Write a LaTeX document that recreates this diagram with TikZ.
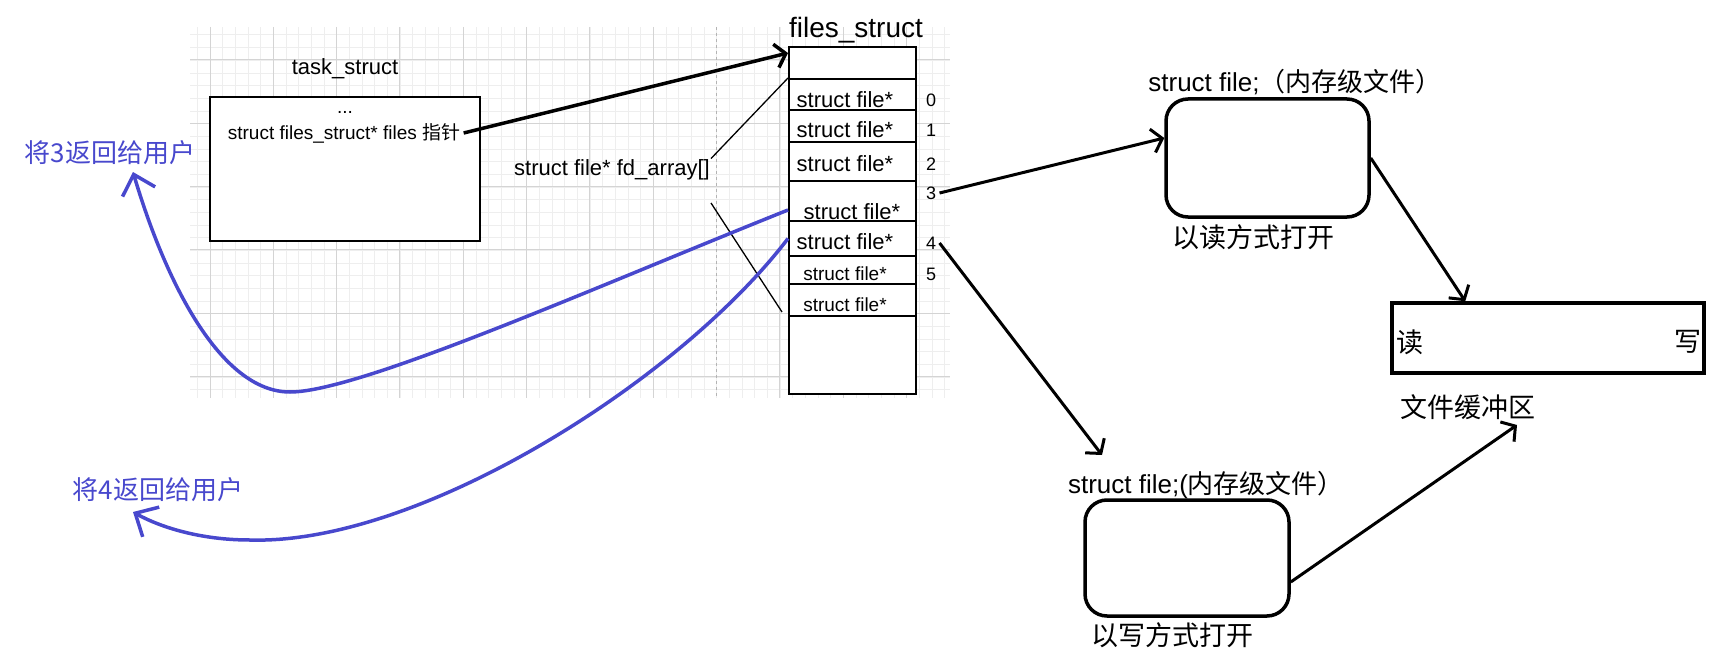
\documentclass[tikz,border=0pt]{standalone}
\usepackage{fontspec}
\setmainfont{Liberation Sans}
\newfontfamily\cjk{Noto Sans CJK SC}
\usepackage{tikz}
\usetikzlibrary{arrows.meta}
\definecolor{retblue}{RGB}{72,72,205}
\definecolor{gridmajor}{RGB}{212,212,212}
\definecolor{gridminor}{RGB}{238,238,238}
\newcommand{\fsz}[1]{\fontsize{#1}{#1}\selectfont}

\begin{document}
\begin{tikzpicture}[x=1pt,y=-1pt,
  cell/.style={draw,fill=white,line width=2pt,minimum width=127pt,anchor=north west,inner sep=0pt},
  rbox/.style={draw,line width=3.5pt,rounded corners=22pt,inner sep=0pt},
  ptr/.style={line width=3pt,-{Straight Barb[length=10pt,width=24pt]}},
  ret/.style={retblue,line width=3.5pt,-{Straight Barb[length=18pt,width=34pt]}},
  retlbl/.style={text=retblue,font=\cjk\fsz{26}}]
\useasboundingbox (0,0) rectangle (1710,658);
% grid
\foreach \i in {0,...,59} \draw[gridminor] ({197.3+12.667*\i},27) -- ({197.3+12.667*\i},398);
\foreach \j in {0,...,28} \draw[gridminor] (190,{34.7+12.667*\j}) -- (950,{34.7+12.667*\j});
\foreach \i in {0,...,7,9,10,11} \draw[gridmajor,line width=1pt] ({210+63.33*\i},27) -- ({210+63.33*\i},398);
\foreach \j in {0,...,5} \draw[gridmajor,line width=1pt] (190,{60+63.33*\j}) -- (950,{60+63.33*\j});
\draw[gridmajor!85!black,line width=1pt,dashed] (716.7,27) -- (716.7,398);
% task_struct
\node[draw,fill=white,line width=2pt,minimum width=270pt,minimum height=144pt] (task) at (345,169) {};
\node (tasklbl) at (345,69) {\fsz{22}task\_struct};
\node (dots) at (345,112) {\fsz{19}...};
\node (fptr) at (344,133) {\fsz{19}struct files\_struct* files {\cjk 指针}};
% files_struct
\foreach \nm/\ya/\yb in {fhead/46/78,f0/78/109,f1/109/141,f2/141/180,f3/180/220,f4/220/255,f5/255/283,f6/283/315,ftail/315/393}
  \node[cell,minimum height={\yb-\ya}] (\nm) at (788,\ya) {};
\foreach \i/\x/\y/\sz in {0/845/100/22,1/845/130/22,2/845/164/22,3/852/212/22,4/845/242/22,5/845/274/19,6/845/305/19}
  \node (sf\i) at (\x,\y) {\fsz{\sz}struct file*};
\foreach \i/\y in {0/100,1/130,2/164,3/193,4/243,5/274}
  \node (idx\i) at (931,\y) {\fsz{18}\i};
\node (fstitle) at (856,30) {\fsz{28}files\_struct};
\node[inner sep=1pt] (fdlbl) at (612,170) {\fsz{22}struct file* fd\_array[]};
\draw[line width=1.3pt] (fdlbl.north east) -- (f0.north west);
\coordinate (brka) at (711,203);
\coordinate (brkb) at (782,312);
\draw[line width=1.3pt] (brka) -- (brkb);
\draw[ptr,line width=3.5pt] (fptr.east) -- ([yshift=10pt]fhead.west);
% return to user
\coordinate (tip3) at (133,172);
\coordinate (tip4) at (133,512);
\node[retlbl] (ret3) at (110,153) {将3返回给用户};
\node[retlbl] (ret4) at (158,490) {将4返回给用户};
\draw[ret] ([yshift=-9pt]f3.west) .. controls (600,285) and (360,392) .. (290,392) .. controls (220,392) and (165,280) .. (tip3);
\draw[ret] (f4.west) .. controls (680,380) and (420,545) .. (250,540) .. controls (200,540) and (160,527) .. (tip4);
% struct file objects
\node[rbox,minimum width=203pt,minimum height=118pt] (rdfile) at (1267.5,158) {};
\node (rdtitle) at (1295,82) {\fsz{26}struct file;{\cjk （内存级文件）}};
\node (rdmode) at (1253,237) {\cjk\fsz{27}以读方式打开};
\node[draw,line width=3.5pt,minimum width=312pt,minimum height=70pt,inner sep=0pt] (buf) at (1548,338) {};
\node (rd) at (1410,342) {\cjk\fsz{27}读};
\node (wr) at (1688,342) {\cjk\fsz{27}写};
\node (buflbl) at (1468,407) {\cjk\fsz{27}文件缓冲区};
\node[rbox,minimum width=204pt,minimum height=116pt] (wrfile) at (1187,558) {};
\node (wrtitle) at (1206,485) {\fsz{26}struct file;({\cjk 内存级文件）}};
\node (wrmode) at (1172,635) {\cjk\fsz{27}以写方式打开};
\coordinate (wrin) at (1102,455);
\coordinate (bufin) at (1517,425);
\draw[ptr] (idx3.east) -- ([yshift=20pt]rdfile.west);
\draw[ptr] (rdfile.east) -- ([xshift=75pt]buf.north west);
\draw[ptr] (idx4.east) -- (wrin);
\draw[ptr] ([yshift=-24pt]wrfile.east) -- (bufin);
\end{tikzpicture}
\end{document}
